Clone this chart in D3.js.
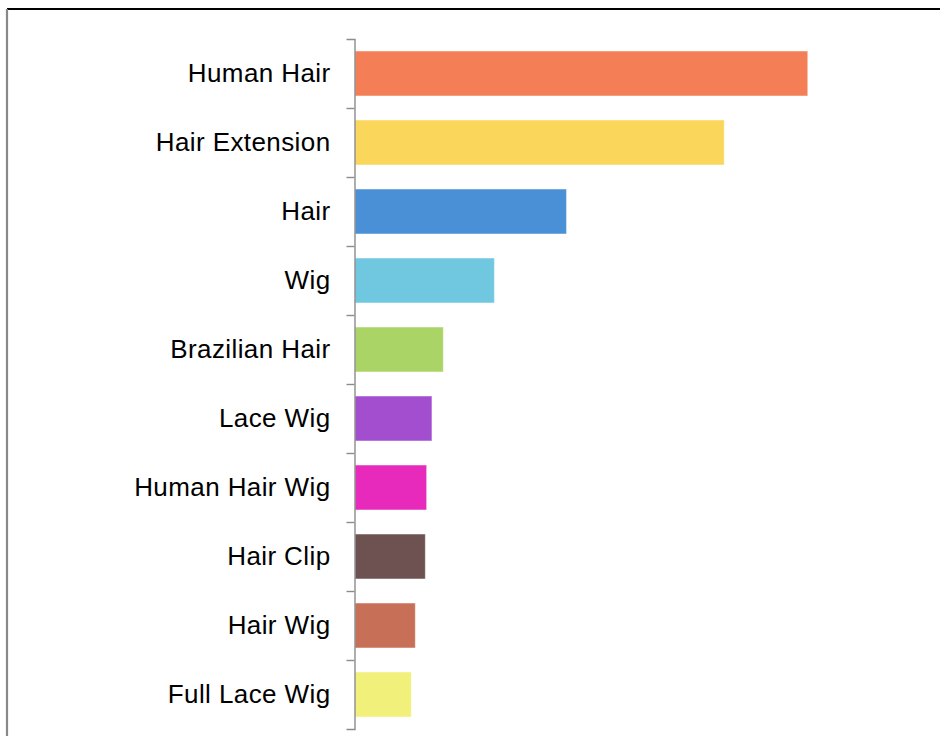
<!DOCTYPE html>
<html>
<head>
<meta charset="utf-8">
<script src="https://cdn.jsdelivr.net/npm/d3@7"></script>
<style>
  body { margin: 0; background: #fff; }
  svg { display: block; }
</style>
</head>
<body>
<div class="chart"></div>
<script>
// keyword counts (no axis values shown)
var categories = ["Human Hair", "Hair Extension", "Hair", "Wig", "Brazilian Hair",
                  "Lace Wig", "Human Hair Wig", "Hair Clip", "Hair Wig", "Full Lace Wig"];
var values = [4527, 3693, 2117, 1397, 887, 773, 720, 707, 607, 567];
var colors = ["#f47f56", "#fad65a", "#4a90d6", "#6fc8e0", "#aad566",
              "#a24ecf", "#e72abb", "#6e5252", "#c76f57", "#f1f07a"];

var width = 940, height = 736;

var svg = d3.select(".chart")
  .append("svg")
    .attr("width", width)
    .attr("height", height);

// frame
svg.append("line")
  .attr("x1", 7).attr("x2", width)
  .attr("y1", 9).attr("y2", 9)
  .attr("stroke", "#000").attr("stroke-width", 2);
svg.append("line")
  .attr("x1", 7).attr("x2", 7)
  .attr("y1", 9).attr("y2", height)
  .attr("stroke", "#888").attr("stroke-width", 2.2);

var axisX = 354.5;

var y = d3.scaleBand()
  .domain(categories)
  .range([39, 729])
  .paddingInner(0.35)
  .paddingOuter(0.175);

var x = d3.scaleLinear()
  .domain([0, 4527])
  .range([axisX, 807.7]);

var color = d3.scaleOrdinal()
  .domain(categories)
  .range(colors);

// bars
svg.selectAll(".bar")
  .data(categories)
  .enter()
  .append("rect")
    .attr("class", "bar")
    .attr("x", x(0) + 0.5)
    .attr("y", function(d) { return y(d); })
    .attr("width", function(d, i) { return x(values[i]) - x(0) - 0.5; })
    .attr("height", y.bandwidth())
    .attr("fill", function(d) { return color(d); })
    .attr("stroke", "#fff")
    .attr("stroke-opacity", 0.35)
    .attr("stroke-width", 1);

// y axis, labels at band centres
var axis = svg.append("g")
  .attr("transform", "translate(" + axisX + ",0)")
  .call(d3.axisLeft(y).tickSize(0).tickPadding(24).tickSizeOuter(8));

axis.select(".domain")
  .attr("stroke", "#8c8c8c")
  .attr("stroke-width", 1.4);

axis.selectAll("text")
  .attr("font-family", "Arial, 'Liberation Sans', sans-serif")
  .attr("font-size", "26px")
  .attr("letter-spacing", "0.4px")
  .attr("fill", "#000");

// tick marks on the band boundaries
var off = y.step() * y.paddingOuter();
axis.selectAll(".boundary")
  .data(categories.slice(1))
  .enter()
  .append("line")
    .attr("class", "boundary")
    .attr("x1", -8).attr("x2", 0)
    .attr("y1", function(d) { return Math.round(y(d) - off) + 0.5; })
    .attr("y2", function(d) { return Math.round(y(d) - off) + 0.5; })
    .attr("stroke", "#8c8c8c")
    .attr("stroke-width", 1.4);
</script>
</body>
</html>
